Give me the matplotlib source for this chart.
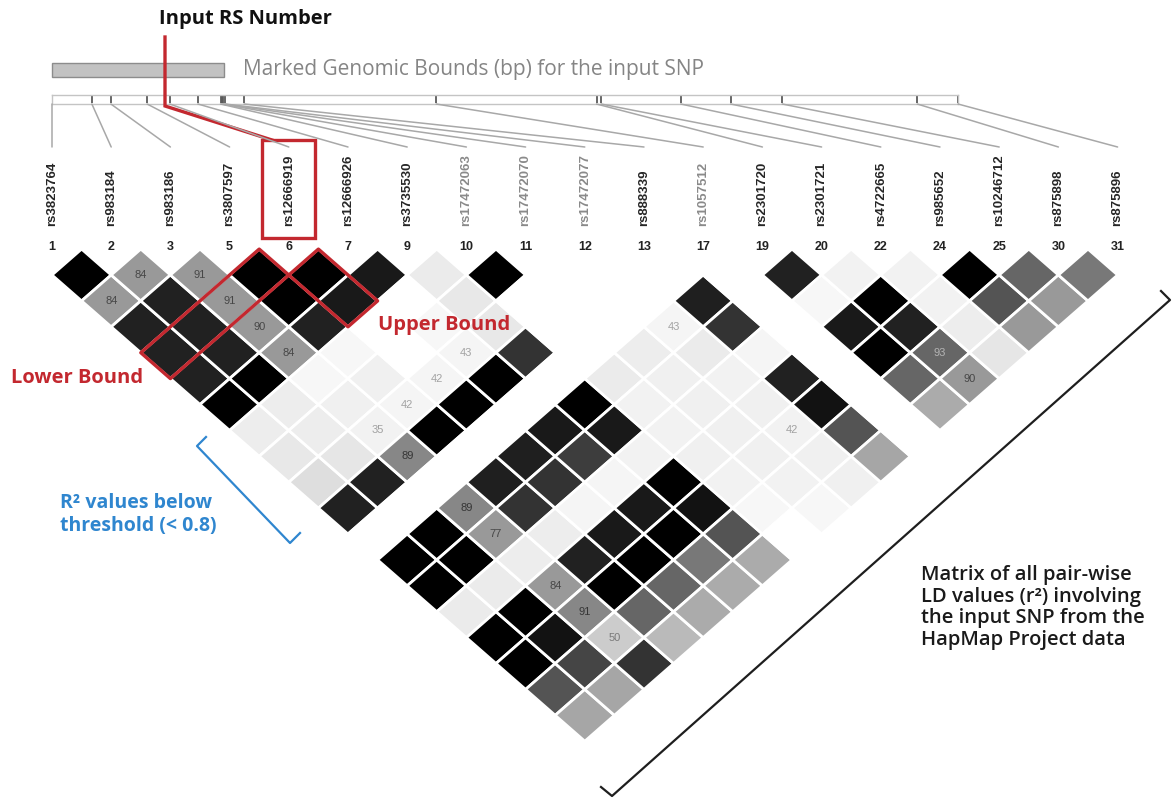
import numpy as np
import matplotlib
matplotlib.use("Agg")
import matplotlib.pyplot as plt
from matplotlib.patches import Polygon, Rectangle, ConnectionPatch

# ---------------- data ----------------
snp_ids = ["rs3823764", "rs983184", "rs983186", "rs3807597", "rs12666919",
           "rs12666926", "rs3735530", "rs17472063", "rs17472070", "rs17472077",
           "rs888339", "rs1057512", "rs2301720", "rs2301721", "rs4722665",
           "rs985652", "rs10246712", "rs875898", "rs875896"]
snp_nums = [1, 2, 3, 5, 6, 7, 9, 10, 11, 12, 13, 17, 19, 20, 22, 24, 25, 30, 31]
# relative physical position of each marker on the genomic track (0-100)
marker_pos = [0.0, 4.4, 6.5, 10.5, 13.0, 16.1, 18.6, 18.75, 18.9, 19.1, 21.2,
              42.4, 60.1, 60.6, 69.4, 74.9, 80.6, 95.5, 100.0]
# r^2 x 100, row i lists pairs (i, j) for j = i+1 .. last  (cell shading)
r2_upper = [
    [100, 40, 87, 87, 87, 100, 7, 9, 13, 87, 0, 100, 100, 8, 100, 100, 67, 35],
    [40, 87, 87, 87, 100, 7, 7, 10, 87, 0, 100, 100, 8, 100, 93, 73, 35],
    [40, 40, 40, 40, 3, 6, 5, 47, 0, 47, 40, 7, 40, 47, 20, 80],
    [100, 100, 87, 3, 6, 4, 100, 0, 88, 80, 7, 87, 100, 60, 27],
    [100, 90, 0, 0, 4, 100, 0, 88, 80, 4, 90, 100, 60, 33],
    [90, 0, 3, 4, 100, 0, 90, 76, 4, 90, 100, 53, 33],
    [8, 9, 9, 80, 0, 100, 90, 5, 100, 93, 67, 33],
    [100, 0, 0, 0, 8, 5, 5, 6, 5, 3, 0],
    [0, 0, 0, 7, 6, 6, 6, 6, 5, 3],
    [0, 0, 4, 8, 5, 6, 5, 6, 6],
    [0, 88, 80, 4, 87, 93, 67, 35],
    [0, 0, 0, 0, 0, 0, 0],
    [87, 3, 90, 100, 60, 33],
    [5, 100, 87, 60, 40],
    [5, 5, 7, 10],
    [100, 67, 40],
    [60, 40],
    [53],
]
# numbers printed in cells (D' x 100), keyed by marker index pair
cell_labels = {(0, 2): 84, (1, 2): 84, (2, 3): 91, (2, 4): 91, (2, 5): 90,
               (2, 6): 84, (2, 9): 35, (3, 9): 42, (4, 9): 42, (5, 9): 43,
               (2, 10): 89, (9, 12): 43, (2, 12): 89, (2, 13): 77,
               (2, 15): 84, (2, 16): 91, (2, 17): 50, (9, 16): 42,
               (13, 17): 93, (13, 18): 90}
input_snp = 4
lower_bound_cells = [(0, 4), (1, 4), (2, 4), (3, 4)]
upper_bound_cells = [(4, 5), (4, 6)]
faded_snps = [7, 8, 9, 11]

# ---------------- layout ----------------
W, H, DPI = 1172, 798, 100
COL0, COLW = 52.0, 59.2       # pixel x of first marker, pixels between markers
ROW0, ROWH = 249.1, 51.8      # pixel y of v = 0, pixels per unit of v
TRACK_L, TRACK_R, TRACK_T, TRACK_B = 52, 958, 95, 104
RED = "#c3282f"
BLUE = "#2f86cf"

def vy(py):
    return (py - ROW0) / ROWH

fig = plt.figure(figsize=(W / DPI, H / DPI), dpi=DPI)
fig.patch.set_facecolor("white")

# matrix axes: u = (i+j)/2, v = (j-i)/2
ax = fig.add_axes([0, 0, 1, 1])
ax.set_xlim(-COL0 / COLW, (W - COL0) / COLW)
ax.set_ylim((H - ROW0) / ROWH, -ROW0 / ROWH)
ax.axis("off")

n = len(snp_ids)
for i in range(n - 1):
    for jj, val in enumerate(r2_upper[i]):
        j = i + 1 + jj
        u, v = (i + j) / 2, (j - i) / 2
        g = 1 - val / 100.0
        ax.add_patch(Polygon([(u - .5, v), (u, v - .5), (u + .5, v), (u, v + .5)],
                             closed=True, facecolor=(g, g, g), edgecolor="white",
                             lw=2.0, zorder=2))
        if (i, j) in cell_labels:
            tg = g + 0.3 if g < 0.5 else g - 0.32
            ax.text(u, v, str(cell_labels[(i, j)]), ha="center", va="center",
                    fontsize=8, color=(tg, tg, tg), family="Liberation Sans",
                    zorder=3)

def band_outline(cells, column):
    if column:
        cells = sorted(cells)
        a, b = cells[0], cells[-1]
        ua, va_ = (a[0] + a[1]) / 2, (a[1] - a[0]) / 2
        ub, vb = (b[0] + b[1]) / 2, (b[1] - b[0]) / 2
        return [(ub, vb - .5), (ub + .5, vb), (ua, va_ + .5), (ua - .5, va_)]
    cells = sorted(cells, key=lambda c: c[1])
    a, b = cells[0], cells[-1]
    ua, va_ = (a[0] + a[1]) / 2, (a[1] - a[0]) / 2
    ub, vb = (b[0] + b[1]) / 2, (b[1] - b[0]) / 2
    return [(ua, va_ - .5), (ub + .5, vb), (ub, vb + .5), (ua - .5, va_)]

for cells, col in [(lower_bound_cells, True), (upper_bound_cells, False)]:
    ax.add_patch(Polygon(band_outline(cells, col), closed=True, fill=False,
                         edgecolor=RED, lw=2.4, joinstyle="round", zorder=5))

# marker names and numbers
for k, (name, num) in enumerate(zip(snp_ids, snp_nums)):
    col = "#8a8a8a" if k in faded_snps else "#262626"
    ax.text(k, vy(226), name, rotation=90, ha="center", va="bottom",
            fontsize=9.5, fontweight="bold", color=col,
            family="Liberation Sans")
    ax.text(k, vy(247), str(num), ha="center", va="center", fontsize=9,
            fontweight="bold", color="#222222", family="Liberation Sans")

# red box around the input marker name
ax.add_patch(Rectangle((input_snp - 0.45, vy(140)), 0.9, vy(238) - vy(140),
                       fill=False, edgecolor=RED, lw=2.4, zorder=5))

# genomic track
tax = fig.add_axes([TRACK_L / W, 1 - TRACK_B / H, (TRACK_R - TRACK_L) / W,
                    (TRACK_B - TRACK_T) / H])
tax.set_xlim(min(marker_pos), max(marker_pos))
tax.set_ylim(0, 1)
tax.set_facecolor("none")
tax.set_xticks([]); tax.set_yticks([])
for s in tax.spines.values():
    s.set_color("#c4c4c4"); s.set_linewidth(1.0)
tax.vlines(marker_pos, 0.1, 0.95, color="#5a5a5a", lw=1.3)

for k, p in enumerate(marker_pos):
    con = ConnectionPatch(xyA=(p, 0), coordsA=tax.transData,
                          xyB=(k, vy(147)), coordsB=ax.transData,
                          color="#a8a8a8", lw=1.1, zorder=1)
    fig.add_artist(con)

# annotation overlay in pixel coordinates
ov = fig.add_axes([0, 0, 1, 1])
ov.set_xlim(0, W); ov.set_ylim(H, 0)
ov.axis("off"); ov.patch.set_alpha(0)

ov.add_patch(Rectangle((52, 63), 172, 14, facecolor="#c2c2c2",
                       edgecolor="#8c8c8c", lw=1.0))
ov.text(243, 70, "Marked Genomic Bounds (bp) for the input SNP", ha="left",
        va="center", fontsize=15, color="#858585", family="Open Sans")
ov.text(245, 19, "Input RS Number", ha="center", va="center", fontsize=14.5,
        fontweight="bold", color="#111111", family="Open Sans")
ov.plot([165, 165, 272], [37, 106, 140], color=RED, lw=2.4,
        solid_joinstyle="miter")

ov.text(444, 325, "Upper Bound", ha="center", va="center", fontsize=14.5,
        fontweight="bold", color=RED, family="Open Sans")
ov.text(77, 378, "Lower Bound", ha="center", va="center", fontsize=14.5,
        fontweight="bold", color=RED, family="Open Sans")

# blue bracket + text
ov.plot([206, 197, 290, 300], [437, 446, 543, 533], color=BLUE, lw=1.6)
ov.text(60, 503, "R\u00b2 values below", ha="left", va="center", fontsize=14,
        fontweight="bold", color=BLUE, family="Open Sans")
ov.text(60, 526, "threshold (< 0.8)", ha="left", va="center", fontsize=14,
        fontweight="bold", color=BLUE, family="Open Sans")

# black bracket + text
ov.plot([1161, 1170, 612, 601], [291, 300, 796, 787], color="#1e1e1e", lw=1.6)
for t, yy in zip(["Matrix of all pair-wise", "LD values (r\u00b2) involving",
                  "the input SNP from the", "HapMap Project data"],
                 [575, 597, 618, 640]):
    ov.text(921, yy, t, ha="left", va="center", fontsize=14.5,
            fontweight="semibold", color="#1a1a1a", family="Open Sans")

fig.savefig("out.png", dpi=DPI, facecolor="white")
